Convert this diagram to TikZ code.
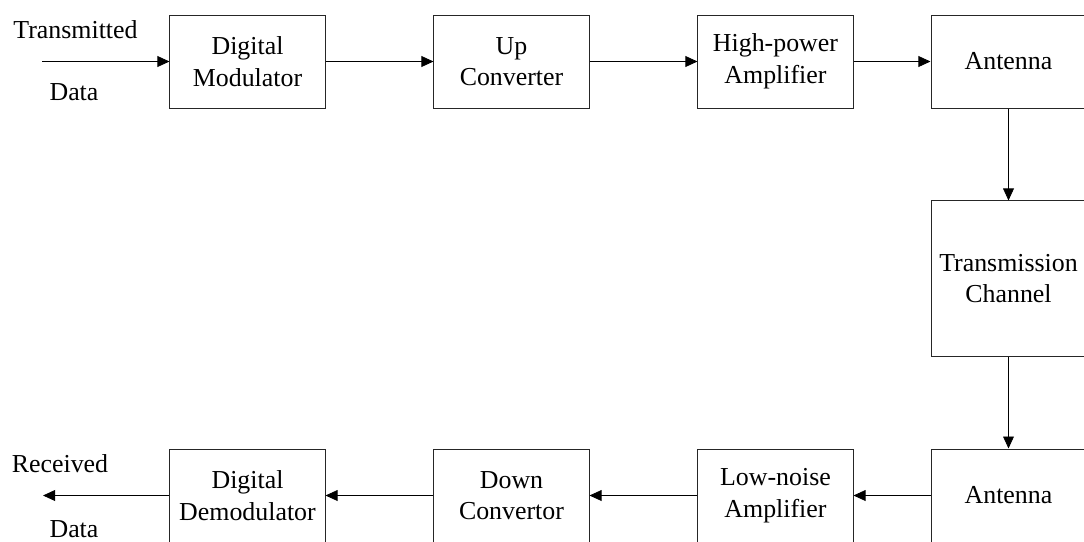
\documentclass[tikz,border=0pt]{standalone}
\usepackage{fontspec}
\setmainfont{Liberation Serif}
\usetikzlibrary{arrows.meta}

\begin{document}
\begin{tikzpicture}[x=0.025cm,y=-0.025cm,
    blk/.style={draw=black!85,line width=0.7pt,minimum width=3.875cm,minimum height=2.325cm,
      inner sep=0pt,align=center,font=\fontsize{18.4}{22.5}\selectfont},
    tall/.style={blk,minimum height=3.875cm},
    lbl/.style={inner sep=0pt,font=\fontsize{18.4}{22.5}\selectfont},
    sig/.style={line width=0.6pt,-{Triangle[length=0.3cm,width=0.27cm]}}]
  \useasboundingbox (0,0) rectangle (1084,541);
  \clip (0,0) rectangle (1084,541);
  % transmitter
  \node[blk] (mod) at (247.5,61.5) {Digital\\Modulator};
  \node[blk] (up) at (511.5,61.5) {Up\\Converter};
  \node[blk] (hpa) at (775.5,61.5) {High-power\\Amplifier};
  \node[blk] (antT) at (1008.5,61.5) {Antenna};
  % channel
  \node[tall] (chan) at (1008.5,278.5) {Transmission\\Channel};
  % receiver
  \node[blk] (antR) at (1008.5,495.5) {Antenna};
  \node[blk] (lna) at (775.5,495.5) {Low-noise\\Amplifier};
  \node[blk] (down) at (511.5,495.5) {Down\\Convertor};
  \node[blk] (demod) at (247.5,495.5) {Digital\\Demodulator};
  % data in / out
  \coordinate (in) at (42,61.5);
  \coordinate (out) at (43,495.5);
  \node[lbl] (txt) at (75.5,29.5) {Transmitted};
  \node[lbl] (txd) at (74,92.5) {Data};
  \node[lbl] (rxt) at (60,464) {Received};
  \node[lbl] (rxd) at (74,529) {Data};
  \draw[sig] (in) -- (mod);
  \draw[sig] (mod) -- (up); \draw[sig] (up) -- (hpa); \draw[sig] (hpa) -- (antT);
  \draw[sig] (antT) -- (chan); \draw[sig] (chan) -- (antR);
  \draw[sig] (antR) -- (lna); \draw[sig] (lna) -- (down); \draw[sig] (down) -- (demod);
  \draw[sig] (demod) -- (out);
\end{tikzpicture}
\end{document}
